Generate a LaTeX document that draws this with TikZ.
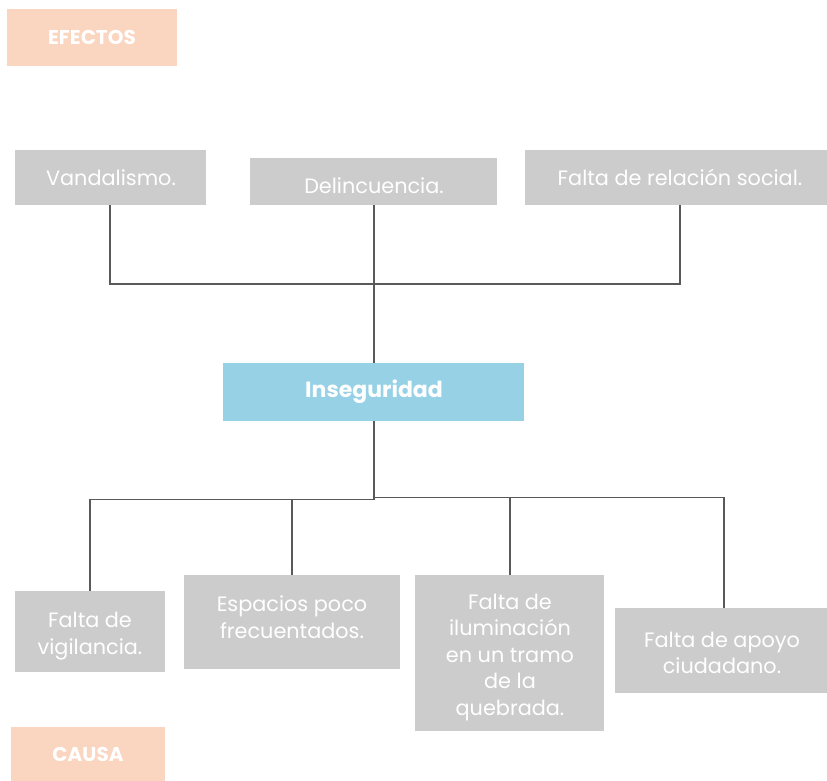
\documentclass[tikz,border=0pt]{standalone}
\usepackage{fontspec}
\setmainfont{Poppins}
\definecolor{peach}{HTML}{FAD5C0}
\definecolor{sky}{HTML}{97D1E6}
\definecolor{boxgray}{HTML}{CCCCCC}
\definecolor{linegray}{HTML}{595959}
\tikzset{
  pbox/.style={fill=peach, draw=none, inner sep=0pt},
  gbox/.style={fill=boxgray, draw=none, inner sep=0pt},
  bbox/.style={fill=sky, draw=none, inner sep=0pt},
  lbl/.style={text=white, font=\fontsize{20.8}{26.5}\selectfont, align=center, inner sep=0pt},
  blbl/.style={text=white, font=\fontsize{20}{22}\selectfont\bfseries, align=center, inner sep=0pt},
  conn/.style={draw=linegray, line width=1.5pt}
}
\begin{document}
\begin{tikzpicture}[x=1pt,y=-1pt]
\useasboundingbox (0,0) rectangle (827,781);
% boxes
\node[pbox, minimum width=170pt, minimum height=57pt] (efectos) at (92,37.5) {};
\node[gbox, minimum width=191pt, minimum height=55pt] (vand) at (110.5,177.5) {};
\node[gbox, minimum width=247pt, minimum height=47pt] (delin) at (373.5,181.5) {};
\node[gbox, minimum width=302pt, minimum height=55pt] (rel) at (676,177.5) {};
\node[bbox, minimum width=301pt, minimum height=58pt] (ins) at (373.5,392) {};
\node[gbox, minimum width=150pt, minimum height=81pt] (vig) at (90,631.5) {};
\node[gbox, minimum width=216pt, minimum height=94pt] (esp) at (292,622) {};
\node[gbox, minimum width=189pt, minimum height=156pt] (ilu) at (509.5,653) {};
\node[gbox, minimum width=212pt, minimum height=85pt] (apo) at (721,650.5) {};
\node[pbox, minimum width=154pt, minimum height=54pt] (causa) at (88,754) {};
% texts
\node[blbl] (tefe) at (92,37) {EFECTOS};
\node[lbl] (tvan) at (111,177.5) {Vandalismo.};
\node[lbl] (tdel) at (374,185.5) {Delincuencia.};
\node[lbl] (trel) at (680,177.5) {Falta de relación social.};
\node[blbl, font=\fontsize{22}{24}\selectfont\bfseries] (tins) at (374,392) {Inseguridad};
\node[lbl] (tvig) at (90,636) {Falta de\\vigilancia.};
\node[lbl] (tesp) at (292,617) {Espacios poco\\frecuentados.};
\node[lbl] (tilu) at (510,657.5) {Falta de\\iluminación\\en un tramo\\de la\\quebrada.};
\node[lbl] (tapo) at (722,653) {Falta de apoyo\\ciudadano.};
\node[blbl] (tcau) at (88,754.5) {CAUSA};
% connectors
\coordinate (hl) at (110,284);
\coordinate (hr) at (680,284);
\coordinate (hm) at (374,284);
\draw[conn] (vand.south -| hl) -- (hl) -- (hr) -- (rel.south -| hr);
\draw[conn] (delin.south -| hm) -- (ins.north -| hm);
\coordinate (bl) at (90,499.5);
\coordinate (bml) at (374,499.5);
\coordinate (bmr) at (374,497.5);
\coordinate (br) at (724,497.5);
\coordinate (be) at (292,499.5);
\coordinate (bi) at (510,497.5);
\draw[conn] (ins.south -| bml) -- (bml) -- (bl) -- (vig.north -| bl);
\draw[conn] (bmr) -- (br) -- (apo.north -| br);
\draw[conn] (be) -- (esp.north -| be);
\draw[conn] (bi) -- (ilu.north -| bi);
\end{tikzpicture}
\end{document}
